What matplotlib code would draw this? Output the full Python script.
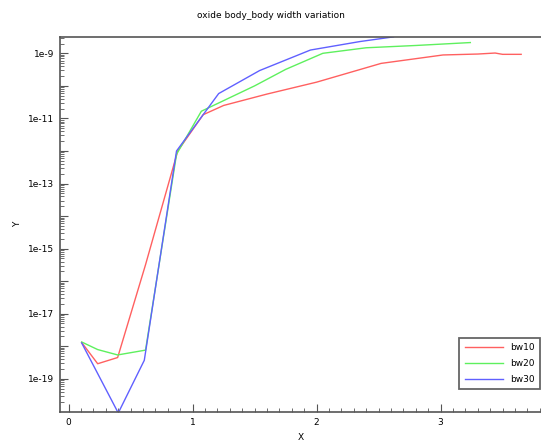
import matplotlib
matplotlib.use("Agg")
import matplotlib.pyplot as plt
from matplotlib.ticker import LogLocator, MultipleLocator
import numpy as np

# values (Y on a log axis)
bw10_x = [0.105, 0.234, 0.395, 0.62, 0.88, 1.085, 1.25, 1.6, 2.0, 2.52, 3.02, 3.3, 3.44, 3.5, 3.65]
bw10_y = [1.3e-18, 2.9e-19, 4.5e-19, 3.2e-16, 1.0e-12, 1.3e-11, 2.5e-11, 5.6e-11, 1.3e-10,
          4.9e-10, 8.9e-10, 9.5e-10, 1.02e-9, 9.3e-10, 9.3e-10]

bw20_x = [0.105, 0.234, 0.395, 0.62, 0.87, 1.07, 1.5, 1.75, 2.05, 2.4, 2.8, 3.24]
bw20_y = [1.35e-18, 7.9e-19, 5.4e-19, 7.6e-19, 7.9e-13, 1.66e-11, 1.0e-10, 3.2e-10,
          1.0e-9, 1.48e-9, 1.74e-9, 2.14e-9]

bw30_x = [0.105, 0.40, 0.61, 0.87, 1.21, 1.54, 1.95, 2.35, 2.62]
bw30_y = [1.26e-18, 8.9e-21, 3.7e-19, 1.0e-12, 5.8e-11, 2.95e-10, 1.26e-9, 2.3e-9, 3.2e-9]

# tick positions / labels
y_tick_exp = list(range(-19, -8))
y_tick_labels = ["1e%d" % e if e % 2 != 0 else "" for e in y_tick_exp]
x_ticks = [0, 1, 2, 3]
x_tick_labels = ["0", "1", "2", "3"]

series = [("bw10", bw10_x, bw10_y, "#ff6060"),
          ("bw20", bw20_x, bw20_y, "#5ef05e"),
          ("bw30", bw30_x, bw30_y, "#6060ff")]

fig = plt.figure(figsize=(5.41, 4.45), dpi=100)
ax = fig.add_axes([0.1109, 0.0742, 0.8891, 0.8433])

for name, xs, ys, col in series:
    ax.plot(xs, ys, color=col, lw=1.0, label=name)

ax.set_yscale("log")
ax.set_xlim(-0.07, 3.81)
ax.set_ylim(10 ** -20.02, 10 ** -8.49)

ax.set_yticks([10.0 ** e for e in y_tick_exp])
ax.set_yticklabels(y_tick_labels)
ax.yaxis.set_minor_locator(LogLocator(base=10, subs=np.arange(2, 10), numticks=30))
ax.set_xticks(x_ticks)
ax.set_xticklabels(x_tick_labels)
ax.xaxis.set_minor_locator(MultipleLocator(0.1))

ax.tick_params(which="major", direction="in", length=6, width=0.8, color="#555555",
               labelsize=6.5, pad=4)
ax.tick_params(which="minor", direction="in", length=3, width=0.6, color="#555555")

for s in ["left", "bottom", "top"]:
    ax.spines[s].set_color("#555555")
    ax.spines[s].set_linewidth(1.2)
ax.spines["right"].set_visible(False)

fig.suptitle("oxide body_body width variation", fontsize=6.5, y=0.975, x=0.5)
ax.set_xlabel("X", fontsize=6.5, va="center")
ax.set_ylabel("Y", fontsize=6.5, va="center")
ax.xaxis.set_label_coords(0.5, -0.067)
ax.yaxis.set_label_coords(-0.089, 0.5)

leg = ax.legend(loc="lower right", bbox_to_anchor=(0.998, 0.061), fontsize=6.5,
                fancybox=False, framealpha=1, borderaxespad=0, handlelength=4.2,
                labelspacing=0.75, borderpad=0.6)
leg.get_frame().set_edgecolor("#666666")
leg.get_frame().set_linewidth(1.3)

plt.savefig("out.png", dpi=100)
